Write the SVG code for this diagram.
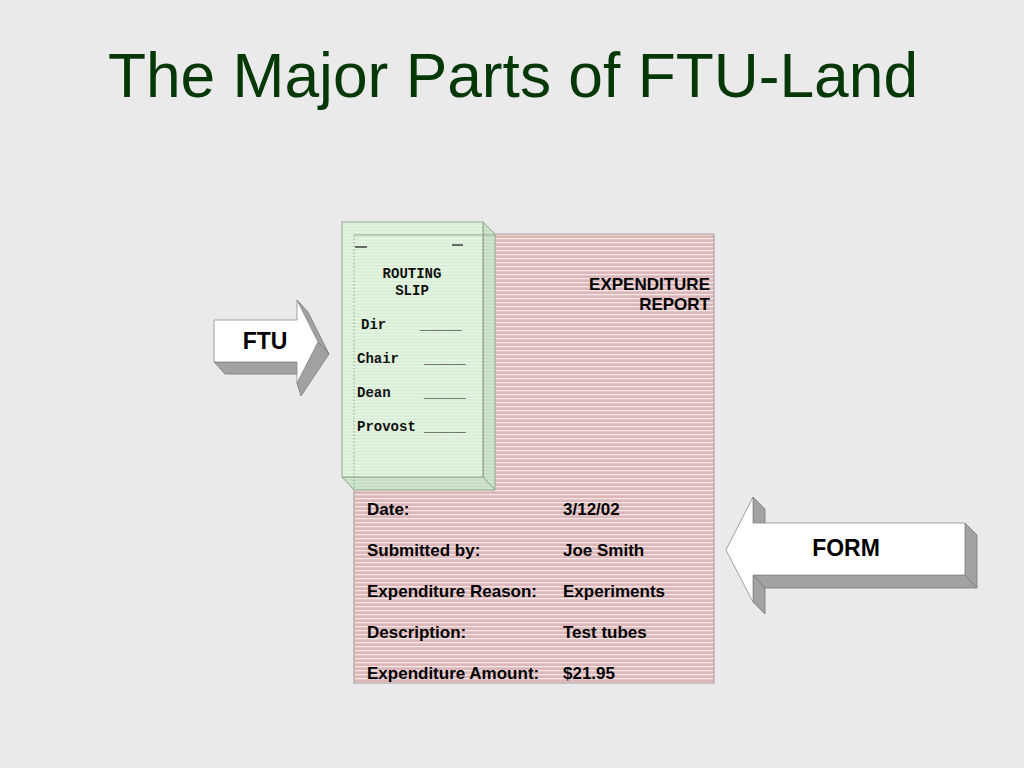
<svg xmlns="http://www.w3.org/2000/svg" width="1024" height="768" viewBox="0 0 1024 768">
<defs>
<pattern id="pinkStripe" x="0" y="234" width="10" height="4" patternUnits="userSpaceOnUse">
<rect width="10" height="4" fill="#dcb6b8"/>
<rect y="0" width="10" height="1.3" fill="#f3e8e8"/>
</pattern>
<pattern id="greenStripe" x="0" y="222" width="10" height="3.2" patternUnits="userSpaceOnUse">
<rect width="10" height="3.2" fill="#d6eed3"/>
<rect y="0" width="10" height="1.1" fill="#ecf8ea"/>
</pattern>
<pattern id="greenSide" x="0" y="222" width="10" height="3.2" patternUnits="userSpaceOnUse">
<rect width="10" height="3.2" fill="#c4dcc1"/>
<rect y="0" width="10" height="1.1" fill="#d8ebd5"/>
</pattern>
</defs>
<style>
.title{font-family:"Liberation Sans",Arial,sans-serif;font-size:62.3px;fill:#053806}
.lbl{font-family:"Liberation Sans",Arial,sans-serif;font-weight:bold;font-size:17px;fill:#000}
.arrowTxt{font-family:"Liberation Sans",Arial,sans-serif;font-weight:bold;font-size:23px;fill:#000}
.mono{font-family:"Liberation Mono","Courier New",monospace;font-weight:bold;font-size:14px;fill:#111}
.front{fill:#fff;stroke:#8a8a8a;stroke-width:0.8}
.side{fill:#a2a2a2;stroke:#7a7a7a;stroke-width:0.8}
.edge{fill:none;stroke:#8fa88c;stroke-width:1}
.dot{fill:none;stroke:#8fa88c;stroke-width:1;stroke-dasharray:1.5 2}
.uline{stroke:#111;stroke-width:1.4}
</style>
<rect width="1024" height="768" fill="#eaeaea"/>
<text class="title" x="513" y="97" text-anchor="middle">The Major Parts of FTU-Land</text>

<g id="expenditure-report">
<rect x="354" y="234" width="360" height="449" fill="url(#pinkStripe)" stroke="#a89898" stroke-width="1"/>
<text class="lbl" x="710" y="290" text-anchor="end">EXPENDITURE</text>
<text class="lbl" x="710" y="310" text-anchor="end">REPORT</text>
<g class="lbl-rows">
<text class="lbl" x="367" y="514.5">Date:</text>
<text class="lbl" x="563" y="514.5">3/12/02</text>
<text class="lbl" x="367" y="555.5">Submitted by:</text>
<text class="lbl" x="563" y="555.5">Joe Smith</text>
<text class="lbl" x="367" y="596.5">Expenditure Reason:</text>
<text class="lbl" x="563" y="596.5">Experiments</text>
<text class="lbl" x="367" y="637.5">Description:</text>
<text class="lbl" x="563" y="637.5">Test tubes</text>
<text class="lbl" x="367" y="678.5">Expenditure Amount:</text>
<text class="lbl" x="563" y="678.5">$21.95</text>
</g>
</g>

<g id="routing-slip">
<polygon points="483,222 495,234 495,490 483,477" fill="url(#greenSide)" stroke="#8fa88c" stroke-width="1"/>
<polygon points="342,477 483,477 495,490 354,490" fill="url(#greenSide)" stroke="#8fa88c" stroke-width="1"/>
<rect x="342" y="222" width="141" height="255" fill="url(#greenStripe)" stroke="#8fa88c" stroke-width="1"/>
<line class="edge" x1="354" y1="235" x2="495" y2="235"/>
<line class="dot" x1="354" y1="235" x2="354" y2="490"/>
<line class="dot" x1="483" y1="235" x2="483" y2="477"/>
<line x1="355" y1="247" x2="367" y2="247" stroke="#222" stroke-width="1.3"/>
<line x1="452" y1="245" x2="463" y2="245" stroke="#222" stroke-width="1.3"/>
<text class="mono" x="412" y="278" text-anchor="middle">ROUTING</text>
<text class="mono" x="412" y="295" text-anchor="middle">SLIP</text>
<text class="mono" x="361" y="329">Dir</text>
<text class="mono" x="420" y="329">_____</text>
<text class="mono" x="357" y="363">Chair</text>
<text class="mono" x="424" y="363">_____</text>
<text class="mono" x="357" y="397">Dean</text>
<text class="mono" x="424" y="397">_____</text>
<text class="mono" x="357" y="431">Provost</text>
<text class="mono" x="424" y="431">_____</text>
</g>

<g id="ftu-arrow">
<polygon class="side" points="214,362 297,362 308,374 225,374"/>
<polygon class="side" points="297,300 318,342 329,354 308,312"/>
<polygon class="side" points="318,342 297,383 301,396 329,354"/>
<polygon class="front" points="214,320 297,320 297,300 318,342 297,383 297,362 214,362"/>
<text class="arrowTxt" x="265" y="349" text-anchor="middle">FTU</text>
</g>

<g id="form-arrow">
<polygon class="side" points="753,497 765,509 765,535 753,523"/>
<polygon class="side" points="965,523 977,535 977,588 965,575"/>
<polygon class="side" points="753,575 965,575 977,588 765,588"/>
<polygon class="side" points="753,575 765,588 765,614 753,602"/>
<polygon class="front" points="726,550 753,497 753,523 965,523 965,575 753,575 753,602"/>
<text class="arrowTxt" x="846" y="556" text-anchor="middle">FORM</text>
</g>
</svg>
